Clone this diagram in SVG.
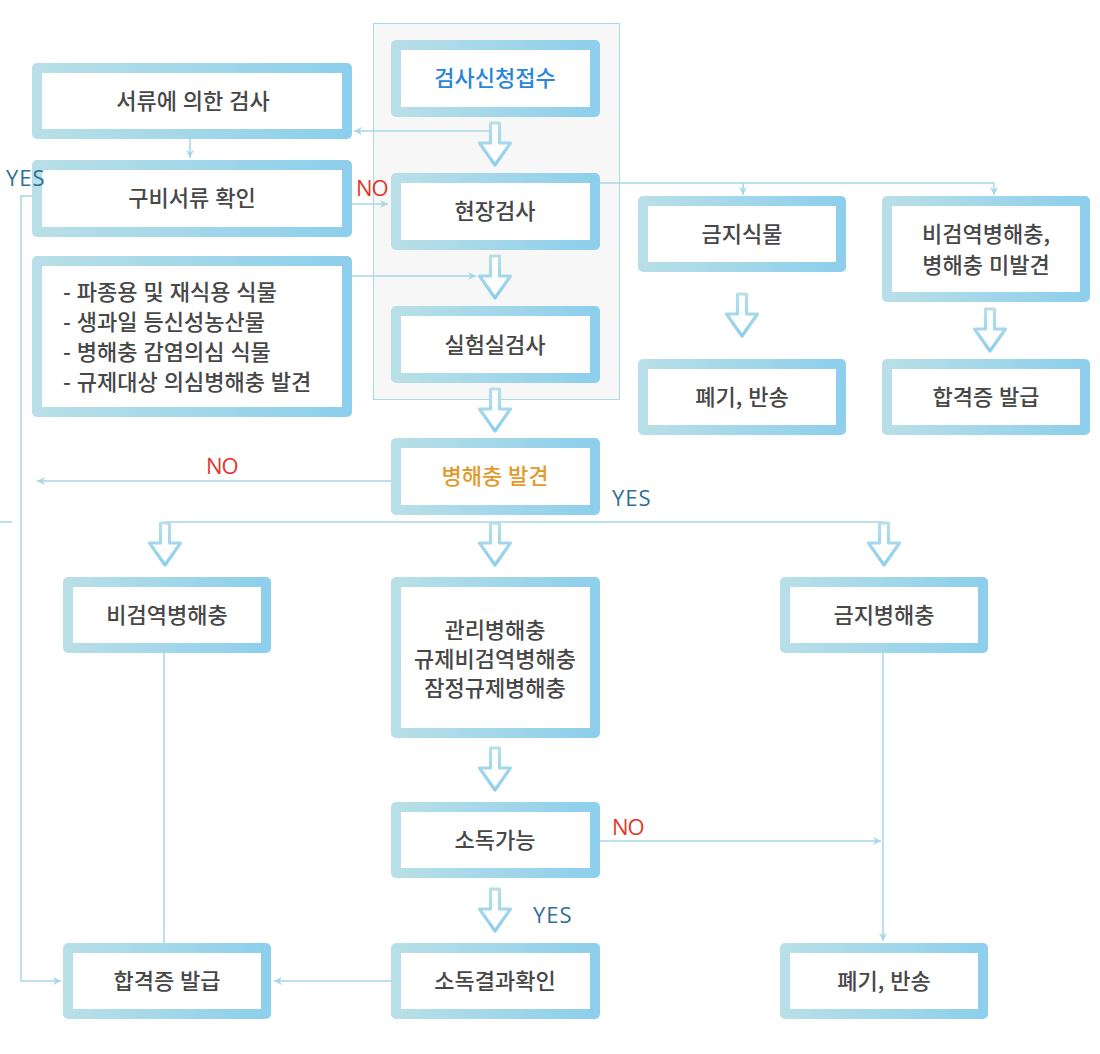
<svg xmlns="http://www.w3.org/2000/svg" width="1100" height="1054" viewBox="0 0 1100 1054">
<defs>
<linearGradient id="gb" x1="0" y1="0" x2="1" y2="0">
<stop offset="0" stop-color="#b8dfe7"/>
<stop offset="1" stop-color="#8dcfec"/>
</linearGradient>
<linearGradient id="ga" x1="0" y1="0" x2="0" y2="1">
<stop offset="0" stop-color="#b8dfe7"/>
<stop offset="1" stop-color="#8dcfec"/>
</linearGradient>
<path id="ha" d="M-4.5,0 H4.5 V20 H15.5 L0,42 L-15.5,20 H-4.5 Z"/>
<marker id="ah" markerUnits="userSpaceOnUse" markerWidth="10" markerHeight="10" refX="8" refY="4" orient="auto">
<path d="M0,0 L8,4 L0,8 L2.5,4 Z" fill="#a6d7e7"/>
</marker>
<style>
.box{fill:#fff;stroke:url(#gb);stroke-width:10;stroke-linejoin:round}
.harr{fill:#fff;stroke:url(#ga);stroke-width:3.2;stroke-linejoin:round}
.t{font-family:"Noto Sans CJK KR","Noto Sans",sans-serif;font-size:22px;font-weight:500;fill:#474747;text-anchor:middle;word-spacing:1px}
.tl{text-anchor:start;word-spacing:1px}
.lbl{font-family:"Open Sans","Noto Sans",sans-serif;font-size:22px}
.no{fill:#e0382a;letter-spacing:-1px}
.yes{fill:#2f6f98;letter-spacing:1px}
.c{fill:none;stroke:#a6d7e7;stroke-width:1.5}
</style>
</defs>
<rect x="373.5" y="23.5" width="246" height="376" fill="#f7f7f7" stroke="#a9d9e7" stroke-width="1"/>
<g id="connectors">
<path class="c" d="M190,139 V158" marker-end="url(#ah)"/>
<path class="c" d="M489,131 H354" marker-end="url(#ah)"/>
<path class="c" d="M32,196 H21 V981 H61" marker-end="url(#ah)"/>
<path class="c" d="M352,204 H388" marker-end="url(#ah)"/>
<path class="c" d="M352,276 H476" marker-end="url(#ah)"/>
<path class="c" d="M600,183 H994 V195" marker-end="url(#ah)"/>
<path class="c" d="M743,183 V195" marker-end="url(#ah)"/>
<path class="c" d="M391,481 H37" marker-end="url(#ah)"/>
<path class="c" d="M0,522 H12"/>
<path class="c" d="M165,522 H885"/>
<path class="c" d="M164,653 V943"/>
<path class="c" d="M391,981 H274" marker-end="url(#ah)"/>
<path class="c" d="M883,653 V941" marker-end="url(#ah)"/>
<path class="c" d="M600,841 H881" marker-end="url(#ah)"/>
<use href="#ha" class="harr" transform="translate(495,123)"/>
<use href="#ha" class="harr" transform="translate(495,256)"/>
<use href="#ha" class="harr" transform="translate(495,389)"/>
<use href="#ha" class="harr" transform="translate(742,294)"/>
<use href="#ha" class="harr" transform="translate(990,309)"/>
<use href="#ha" class="harr" transform="translate(165,523)"/>
<use href="#ha" class="harr" transform="translate(495,523)"/>
<use href="#ha" class="harr" transform="translate(884,523)"/>
<use href="#ha" class="harr" transform="translate(495,748)"/>
<use href="#ha" class="harr" transform="translate(495,889)"/>
</g>
<g id="n-apply"><rect class="box" x="396" y="45" width="199" height="67"/><text class="t" x="495" y="86" style="fill:#2a86d8">검사신청접수</text></g>
<g id="n-docs"><rect class="box" x="37" y="68" width="310" height="66"/><text class="t" x="193" y="109">서류에 의한 검사</text></g>
<g id="n-check"><rect class="box" x="37" y="165" width="310" height="67"/><text class="t" x="192" y="206">구비서류 확인</text></g>
<g id="n-list"><rect class="box" x="37" y="261" width="310" height="151"/>
<text class="t tl" x="63" y="300">- 파종용 및 재식용 식물</text>
<text class="t tl" x="63" y="330">- 생과일 등신성농산물</text>
<text class="t tl" x="63" y="360">- 병해충 감염의심 식물</text>
<text class="t tl" x="63" y="390">- 규제대상 의심병해충 발견</text></g>
<g id="n-site"><rect class="box" x="396" y="178" width="199" height="67"/><text class="t" x="495" y="219">현장검사</text></g>
<g id="n-lab"><rect class="box" x="396" y="311" width="199" height="67"/><text class="t" x="495" y="353">실험실검사</text></g>
<g id="n-banned-plant"><rect class="box" x="643" y="201" width="198" height="66"/><text class="t" x="742" y="242">금지식물</text></g>
<g id="n-nonq"><rect class="box" x="887" y="201" width="198" height="96"/><text class="t" x="986" y="242">비검역병해충,</text><text class="t" x="986" y="273">병해충 미발견</text></g>
<g id="n-discard1"><rect class="box" x="643" y="364" width="198" height="66"/><text class="t" x="742" y="405">폐기, 반송</text></g>
<g id="n-pass1"><rect class="box" x="887" y="364" width="198" height="66"/><text class="t" x="986" y="405">합격증 발급</text></g>
<g id="n-found"><rect class="box" x="396" y="443" width="199" height="67"/><text class="t" x="495" y="484" style="fill:#e39a2c">병해충 발견</text></g>
<g id="n-nonq2"><rect class="box" x="68" y="582" width="198" height="66"/><text class="t" x="167" y="623">비검역병해충</text></g>
<g id="n-managed"><rect class="box" x="396" y="582" width="199" height="151"/>
<text class="t" x="495" y="638">관리병해충</text><text class="t" x="495" y="667">규제비검역병해충</text><text class="t" x="495" y="696">잠정규제병해충</text></g>
<g id="n-banned-pest"><rect class="box" x="785" y="582" width="198" height="66"/><text class="t" x="884" y="623">금지병해충</text></g>
<g id="n-disinfect"><rect class="box" x="396" y="807" width="199" height="66"/><text class="t" x="495" y="848">소독가능</text></g>
<g id="n-result"><rect class="box" x="396" y="948" width="199" height="66"/><text class="t" x="495" y="989">소독결과확인</text></g>
<g id="n-pass2"><rect class="box" x="68" y="948" width="198" height="66"/><text class="t" x="167" y="989">합격증 발급</text></g>
<g id="n-discard2"><rect class="box" x="785" y="948" width="198" height="66"/><text class="t" x="884" y="989">폐기, 반송</text></g>
<g id="labels">
<text class="lbl yes" x="6" y="186">YES</text>
<text class="lbl no" x="356" y="196">NO</text>
<text class="lbl no" x="206" y="474">NO</text>
<text class="lbl yes" x="612" y="506">YES</text>
<text class="lbl no" x="612" y="835">NO</text>
<text class="lbl yes" x="533" y="923">YES</text>
</g>
</svg>
